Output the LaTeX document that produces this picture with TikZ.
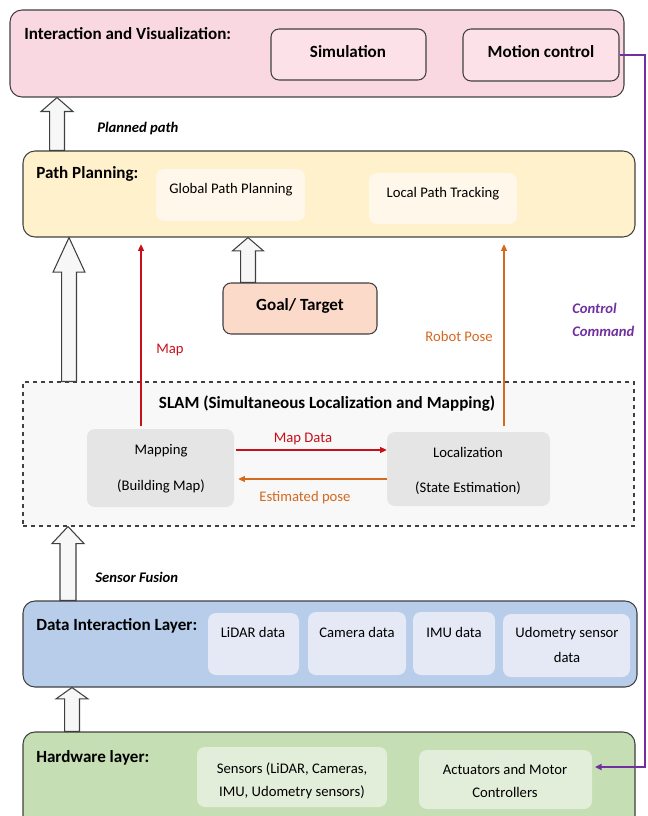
\documentclass[tikz,border=0pt]{standalone}
\usepackage{fontspec}
\setmainfont{Carlito}
\usetikzlibrary{shapes,arrows.meta,positioning,calc,fit}

\definecolor{vispink}{HTML}{FAD8E2}
\definecolor{vislight}{HTML}{FDE1E9}
\definecolor{planyellow}{HTML}{FFF1CC}
\definecolor{planlight}{HTML}{FEF7EA}
\definecolor{goalpeach}{HTML}{FBDACA}
\definecolor{slamgray}{HTML}{F8F8F8}
\definecolor{boxgray}{HTML}{E5E5E5}
\definecolor{datablue}{HTML}{B7CDEA}
\definecolor{datalight}{HTML}{E5E9F6}
\definecolor{hwgreen}{HTML}{C6DEB3}
\definecolor{hwlight}{HTML}{E3EEDA}
\definecolor{mapred}{HTML}{C8101A}
\definecolor{poseorange}{HTML}{D4691F}
\definecolor{ctrlpurple}{HTML}{7030A0}

\tikzset{
  layer/.style={draw=black!75, line width=0.8pt, rounded corners=9pt, inner sep=0pt},
  subbox/.style={rounded corners=6pt, inner sep=0pt},
  framed/.style={subbox, draw=black!75, line width=0.8pt},
  title/.style={inner sep=0pt, anchor=base west, font=\fontsize{12.8}{15}\selectfont\bfseries},
  boldtext/.style={inner sep=0pt, anchor=base, font=\fontsize{12.8}{15}\selectfont\bfseries},
  boxtext/.style={inner sep=0pt, anchor=base, font=\fontsize{11}{13}\selectfont},
  flowlabel/.style={inner sep=0pt, anchor=base west, font=\fontsize{11}{13}\selectfont\bfseries\itshape},
  hollow/.style={draw=black!75, line width=0.8pt, fill=black!3},
  thinarrow/.style={line width=0.8pt, -{Triangle[length=5pt,width=4.5pt]}}
}

% hollow block arrow pointing up: bottom, top, half shaft, half head, head length
\newcommand{\blockarrow}[5]{%
  \draw[hollow] let \p1=(#1), \p2=(#2) in
    (\x1-#3,\y1) -- (\x1-#3,\y2-#5) -- (\x1-#4,\y2-#5) -- (\x1,\y2)
    -- (\x1+#4,\y2-#5) -- (\x1+#3,\y2-#5) -- (\x1+#3,\y1) -- cycle;}

\begin{document}
\begin{tikzpicture}[x=0.75pt,y=-0.75pt]
    \path[use as bounding box,clip] (0,0) rectangle (647,816);

    % interaction and visualization
    \node[layer, fill=vispink, fit={(10,10) (624,97)}] (vis) {};
    \node[title] (vistitle) at (24,39.5) {Interaction and Visualization:};
    \node[framed, fill=vislight, fit={(271,29) (426,80)}] (sim) {};
    \node[framed, fill=vislight, fit={(463,29) (619,81)}] (motion) {};
    \node[boldtext] (simtext) at (348,57.5) {Simulation};
    \node[boldtext] (motiontext) at (541,57.5) {Motion control};

    % path planning
    \node[layer, fill=planyellow, fit={(23,151) (635,237)}] (plan) {};
    \node[title] (plantitle) at (36,178.5) {Path Planning:};
    \node[subbox, fill=planlight, fit={(156,169) (305,221)}] (global) {};
    \node[subbox, fill=planlight, fit={(369,173) (517,224)}] (local) {};
    \node[boxtext] (globaltext) at (231,193.5) {Global Path Planning};
    \node[boxtext] (localtext) at (443,197.5) {Local Path Tracking};

    \node[framed, fill=goalpeach, fit={(223,283) (377,334)}] (goal) {};
    \node[boldtext] (goaltext) at (300,310.5) {Goal/ Target};

    % slam
    \node[draw=black!75, line width=0.8pt, dashed, fill=slamgray, inner sep=0pt,
          fit={(23,382) (634,526)}] (slam) {};
    \node[boldtext] (slamtitle) at (327,408.5) {SLAM (Simultaneous Localization and Mapping)};
    \node[subbox, fill=boxgray, fit={(87,429) (234,507)}] (mapping) {};
    \node[subbox, fill=boxgray, fit={(387,432) (550,506)}] (loc) {};
    \node[boxtext] (mappingtext) at (161,454.5) {Mapping};
    \node[boxtext] (mappingsub) at (161,490.5) {(Building Map)};
    \node[boxtext] (loctext) at (468,457.5) {Localization};
    \node[boxtext] (locsub) at (468,492.5) {(State Estimation)};

    % data interaction layer
    \node[layer, fill=datablue, fit={(23,601) (637,687)}] (data) {};
    \node[title] (datatitle) at (36,630.5) {Data Interaction Layer:};
    \node[subbox, fill=datalight, fit={(208,613) (299,675)}] (lidar) {};
    \node[subbox, fill=datalight, fit={(308,612) (406,675)}] (camera) {};
    \node[subbox, fill=datalight, fit={(413,612) (495,675)}] (imu) {};
    \node[subbox, fill=datalight, fit={(503,614) (630,677)}] (odom) {};
    \node[boxtext] (lidartext) at (253,637.5) {LiDAR data};
    \node[boxtext] (cameratext) at (357,637.5) {Camera data};
    \node[boxtext] (imutext) at (454,637.5) {IMU data};
    \node[boxtext] (odomtext) at (567,637.5) {Udometry sensor};
    \node[boxtext] (odomsub) at (567,662.5) {data};

    % hardware layer
    \node[layer, fill=hwgreen, fit={(23,732) (635,840)}] (hw) {};
    \node[title] (hwtitle) at (36,762.5) {Hardware layer:};
    \node[subbox, fill=hwlight, fit={(197,747) (387,807)}] (sensors) {};
    \node[subbox, fill=hwlight, fit={(419,750) (592,809)}] (act) {};
    \node[boxtext] (sensorstext) at (292,773.5) {Sensors (LiDAR, Cameras,};
    \node[boxtext] (sensorssub) at (292,796.5) {IMU, Udometry sensors)};
    \node[boxtext] (acttext) at (505,774.5) {Actuators and Motor};
    \node[boxtext] (actsub) at (505,797.5) {Controllers};

    % block arrows
    \coordinate (xa) at (57,0);
    \coordinate (xb) at (69,0);
    \coordinate (xc) at (68,0);
    \coordinate (xd) at (72,0);
    \coordinate (xg) at (248,0);
    \blockarrow{plan.north -| xa}{vis.south -| xa}{5.6pt}{12pt}{10.5pt}
    \blockarrow{slam.north -| xb}{plan.south -| xb}{5.6pt}{12pt}{26pt}
    \blockarrow{data.north -| xc}{slam.south -| xc}{6pt}{12pt}{12.75pt}
    \blockarrow{hw.north -| xd}{data.south -| xd}{5.6pt}{12pt}{8.5pt}
    \blockarrow{goal.north -| xg}{plan.south -| xg}{5.6pt}{11.6pt}{10pt}

    \node[flowlabel] (planned) at (97,133) {Planned path};
    \node[flowlabel] (fusion) at (95,582) {Sensor Fusion};

    % map and pose
    \coordinate (xmap) at (141,0);
    \coordinate (xpose) at (504,0);
    \draw[thinarrow, mapred, shorten <=2pt, shorten >=5pt] (mapping.north -| xmap) -- (plan.south -| xmap);
    \draw[thinarrow, poseorange, shorten <=4pt, shorten >=5pt] (loc.north -| xpose) -- (plan.south -| xpose);
    \node[boxtext, text=mapred] (maplabel) at (170,353.5) {Map};
    \node[boxtext, text=poseorange] (poselabel) at (459,341.5) {Robot Pose};

    \coordinate (ymapdata) at (0,450);
    \coordinate (yestpose) at (0,479);
    \draw[thinarrow, mapred, shorten <=1pt] (mapping.east |- ymapdata) -- (loc.west |- ymapdata);
    \draw[thinarrow, poseorange, shorten >=3pt] (loc.west |- yestpose) -- (mapping.east |- yestpose);
    \node[boxtext, text=mapred] (mapdata) at (303,442.5) {Map Data};
    \node[boxtext, text=poseorange] (estpose) at (305,501.5) {Estimated pose};

    % control command
    \coordinate (xctrl) at (645,0);
    \coordinate (yact) at (0,767);
    \draw[thinarrow, ctrlpurple, line width=1.2pt, shorten >=2pt]
        (motion.east) -- (motion.east -| xctrl) -- (yact -| xctrl) -- (act.east |- yact);
    \node[flowlabel, text=ctrlpurple] (ctrltext) at (572,313) {Control};
    \node[flowlabel, text=ctrlpurple] (ctrlsub) at (572,336) {Command};
\end{tikzpicture}
\end{document}
